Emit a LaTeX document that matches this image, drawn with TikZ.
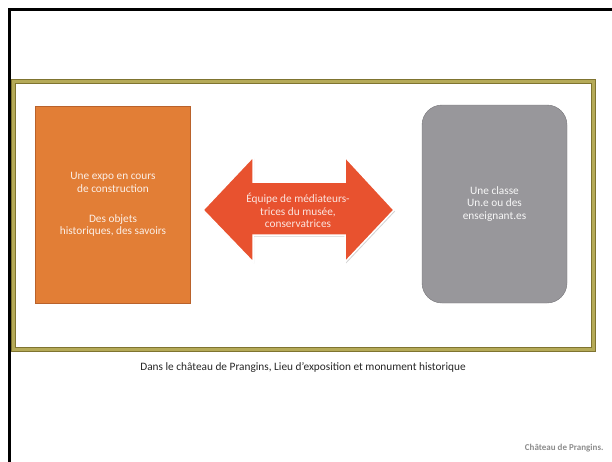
\documentclass[tikz,border=0pt]{standalone}
\usepackage{fontspec}
\setmainfont{Carlito}
\usetikzlibrary{shadows}
\definecolor{bOrange}{HTML}{E27E36}
\definecolor{bOrangeEdge}{HTML}{B9622B}
\definecolor{bArrow}{HTML}{E8522F}
\definecolor{bGrey}{HTML}{98979B}
\definecolor{bGreyEdge}{HTML}{77767A}
\definecolor{bOlive}{HTML}{7F7430}
\definecolor{bOliveLight}{HTML}{B5AA58}
\definecolor{bCredit}{HTML}{8C8C8C}
\tikzset{
  boxtext/.style={align=center, font=\fontsize{11.3}{12.8}\selectfont},
  expo/.style={boxtext, draw=bOrangeEdge, fill=bOrange, text=white!88!bOrange,
               minimum width=155pt, minimum height=197pt, inner sep=0pt,
               drop shadow={shadow xshift=0.5pt, shadow yshift=-1pt, opacity=0.25}},
  classe/.style={boxtext, draw=bGreyEdge, fill=bGrey, text=white!92!bGrey,
                 rounded corners=20pt, minimum width=145pt, minimum height=198pt,
                 inner sep=0pt},
  % the two-headed arrow between both boxes
  duplex/.style={fill=bArrow, draw=white, line width=1.5pt,
                 drop shadow={shadow xshift=1pt, shadow yshift=-1.5pt, opacity=0.35}},
  onarrow/.style={boxtext, text=white!85!bArrow, inner sep=0pt},
  caption/.style={font=\fontsize{11.3}{13}\selectfont, text=black!85},
  credit/.style={font=\fontsize{9}{11}\selectfont\bfseries, text=bCredit},
}

\begin{document}
\begin{tikzpicture}[x=1pt, y=-1pt]
\useasboundingbox (0,0) rectangle (612,461);

% slide edge
\draw[line width=3pt, line cap=rect] (612,9.5) -- (9.5,9.5) -- (9.5,461);

% olive frame around the scene
\draw[draw=bOlive, line width=1pt, double=bOliveLight, double distance=3pt]
  (13.5,81.5) rectangle (593.5,349.5);

\node[expo] (expo) at (113,204.5)
  {Une expo en cours\\de construction\\[17pt]Des objets\\historiques, des savoirs};

\node[classe] (classe) at (494.5,204)
  {Une classe\\Un.e ou des\\enseignant.es};

\path[duplex] (203,210) -- (253,157) -- (253,182) -- (345,182) -- (345,157)
  -- (394,210) -- (345,262) -- (345,235) -- (253,235) -- (253,262) -- cycle;
\node[onarrow] (equipe) at (298,210.5)
  {Équipe de médiateurs-\\trices du musée,\\conservatrices};

\node[caption] (lieu) at (303,367)
  {Dans le château de Prangins, Lieu d’exposition et monument historique};
\node[credit, anchor=east] (chateau) at (607,448) {Château de Prangins.};

\end{tikzpicture}
\end{document}
